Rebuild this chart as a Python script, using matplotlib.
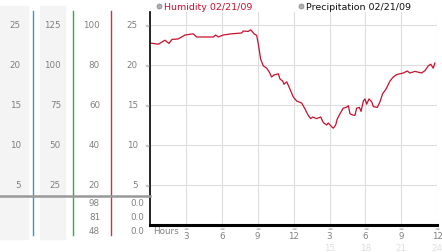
import matplotlib
matplotlib.use("Agg")
import matplotlib.pyplot as plt
from matplotlib.lines import Line2D
from matplotlib.patches import Rectangle
from matplotlib.transforms import blended_transform_factory

# humidity (%) over the day, hours from midnight
hours = [0, 0.70, 1.25, 1.58, 1.84, 2.34, 2.64, 2.93, 3.61, 3.90,
         5.29, 5.49, 5.70, 6.12, 6.82, 7.66, 7.79, 8.21, 8.42, 8.69,
         8.91, 9.05, 9.24, 9.46, 9.75, 9.97, 10.16, 10.35, 10.72, 10.86,
         11.08, 11.19, 11.42, 11.63, 11.97, 12.25, 12.67, 12.95, 13.22, 13.42,
         13.59, 13.92, 14.26, 14.48, 14.76, 14.89, 15.17, 15.31, 15.51, 15.64,
         15.87, 16.14, 16.38, 16.57, 16.71, 16.93, 17.12, 17.26, 17.49, 17.63,
         17.82, 17.96, 18.10, 18.29, 18.52, 18.66, 18.99, 19.21, 19.43, 19.72,
         20.05, 20.32, 20.60, 21.16, 21.49, 21.71, 22.14, 22.69, 22.97, 23.25,
         23.45, 23.66, 23.80]
humidity = [91, 90.4, 92.4, 90.8, 92.8, 93, 94, 95, 95.6, 94,
            94, 95, 94, 95, 95.6, 96, 97, 96.8, 97.6, 95.6,
            94.8, 90.4, 83, 79.6, 78.4, 76.4, 74, 75, 75.6, 73,
            72, 70.4, 71.6, 68.8, 64, 62, 61, 58, 54.8, 53.2,
            54, 53.2, 54, 51.2, 50, 51, 49.2, 48.4, 50, 53,
            55.6, 58.4, 58.8, 59.6, 55.6, 55, 54.8, 58.4, 58.8, 56.8,
            62, 63, 60.4, 63, 61.6, 59.2, 58.8, 61.6, 65.6, 68,
            72, 74, 75.2, 76, 77, 76, 76.8, 76, 77.2, 79.6,
            80.4, 78.4, 81]

# scale columns on the left (one per tick of the humidity axis)
tick_pct = [100, 80, 60, 40, 20]
col1_labels = ["25", "20", "15", "10", "5"]
col2_labels = ["125", "100", "75", "50", "25"]
col3_labels = ["100", "80", "60", "40", "20"]
col4_labels = ["25", "20", "15", "10", "5"]
summary_hum = ["98", "81", "48"]
summary_precip = ["0.0", "0.0", "0.0"]

hour_ticks = [3, 6, 9, 12, 15, 18, 21, 24]
hour_labels = ["3", "6", "9", "12", "3", "6", "9", "12"]
hour_labels_24 = ["", "", "", "", "15", "18", "21", "24"]

W, H = 442, 253
fig = plt.figure(figsize=(W / 100, H / 100), dpi=100)
fig.patch.set_facecolor("white")


def fx(x):
    return x / W


def fy(y):
    return 1 - y / H


# main plot area (pixels: x 150..437, y 13..226)
ax = fig.add_axes([fx(150), fy(226), (437.3 - 150) / W, (226 - 13) / H])
ax.set_xlim(0, 24)
ax.set_ylim(0, 106.5)
ax.plot(hours, humidity, color="#c8102e", lw=0.9)
for t in hour_ticks:
    ax.axvline(t, color="#dddddd", lw=0.8, zorder=0)
for t in tick_pct:
    ax.axhline(t, color="#dddddd", lw=0.8, zorder=0)
ax.set_xticks([])
ax.set_yticks([])
for s in ["top", "right"]:
    ax.spines[s].set_visible(False)
ax.spines["left"].set_color("black")
ax.spines["left"].set_linewidth(1.2)
ax.spines["bottom"].set_color("black")
ax.spines["bottom"].set_linewidth(2.2)

lbl = dict(fontsize=6.3, color="#808080", family="DejaVu Sans")
ytr = blended_transform_factory(fig.transFigure, ax.transData)

# background stripes of the scale columns
fig.add_artist(Rectangle((0, fy(240)), fx(28), (240 - 7) / H,
                         transform=fig.transFigure, color="#f4f4f4", zorder=0))
fig.add_artist(Rectangle((fx(40), fy(240)), fx(25), (240 - 7) / H,
                         transform=fig.transFigure, color="#f4f4f4", zorder=0))

# coloured separators
for xx, c in [(33, "#3399cc"), (72.5, "#33aa44"), (111, "#cc3344")]:
    fig.add_artist(Line2D([fx(xx), fx(xx)], [fy(236), fy(12)],
                          transform=fig.transFigure, color=c, lw=1.0))

# horizontal separator
fig.add_artist(Line2D([0, fx(150)], [fy(197), fy(197)],
                      transform=fig.transFigure, color="#999999", lw=1.8))

for v, a, b, c, d in zip(tick_pct, col1_labels, col2_labels, col3_labels, col4_labels):
    fig.text(fx(21), v, a, transform=ytr, ha="right", va="center", **lbl)
    fig.text(fx(61), v, b, transform=ytr, ha="right", va="center", **lbl)
    fig.text(fx(100), v, c, transform=ytr, ha="right", va="center", **lbl)
    fig.text(fx(138), v, d, transform=ytr, ha="right", va="center", **lbl)
    fig.text(fx(146.5), v, "≈", transform=ytr, ha="center", va="center",
             fontsize=4.5, color="#999999")

for i, (a, b) in enumerate(zip(summary_hum, summary_precip)):
    yy = 204 + i * 14
    fig.text(fx(100), fy(yy), a, ha="right", va="center", **lbl)
    fig.text(fx(144), fy(yy), b, ha="right", va="center", **lbl)

# hour axis labels
xtr = blended_transform_factory(ax.transData, fig.transFigure)
fig.text(fx(153), fy(232), "Hours", ha="left", va="center", **lbl)
for t, a, b in zip(hour_ticks, hour_labels, hour_labels_24):
    fig.text(t, fy(229), "≈", transform=xtr, ha="center", va="center",
             fontsize=4.5, color="#999999")
    fig.text(t, fy(237), a, transform=xtr, ha="center", va="center", **lbl)
    if b:
        fig.text(t, fy(249), b, transform=xtr, ha="center", va="center",
                 fontsize=6.3, color="#dddddd")

# legend
for cx, txt, col in [(159, "Humidity 02/21/09", "#c8102e"),
                     (301, "Precipitation 02/21/09", "#111111")]:
    fig.add_artist(Line2D([fx(cx)], [fy(7)], transform=fig.transFigure,
                          marker="o", markersize=3.6, markerfacecolor="#b0b0b0",
                          markeredgecolor="#888888", markeredgewidth=0.5, lw=0))
    fig.text(fx(cx + 4.5), fy(7), txt, ha="left", va="center", fontsize=6.8, color=col)

fig.savefig("out.png", dpi=100)
